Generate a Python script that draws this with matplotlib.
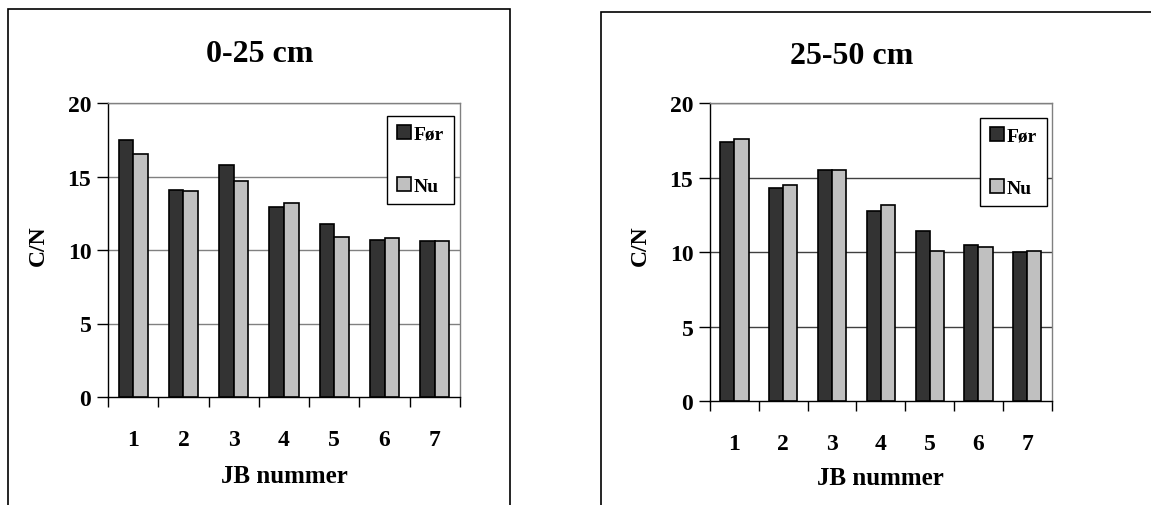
import matplotlib
matplotlib.use("Agg")
import matplotlib.pyplot as plt
from matplotlib.patches import Rectangle, Patch
import numpy as np

categories = ["1", "2", "3", "4", "5", "6", "7"]
series_names = ["Før", "Nu"]
foer_0_25 = [17.5, 14.1, 15.8, 12.9, 11.8, 10.7, 10.6]
nu_0_25 = [16.5, 14.0, 14.7, 13.2, 10.9, 10.8, 10.6]
foer_25_50 = [17.4, 14.3, 15.5, 12.8, 11.4, 10.5, 10.0]
nu_25_50 = [17.6, 14.5, 15.5, 13.2, 10.1, 10.35, 10.1]
titles = ["0-25 cm", "25-50 cm"]
yticks = [0, 5, 10, 15, 20]

plt.rcParams["font.family"] = ["Liberation Serif", "DejaVu Serif"]
plt.rcParams["font.weight"] = "bold"

W, H = 1151, 506
fig = plt.figure(figsize=(W / 100, H / 100), dpi=100)

def px_rect(x0, y0, x1, y1):
    return [x0 / W, 1 - y1 / H, (x1 - x0) / W, (y1 - y0) / H]

# outer frames
fig.patches.append(Rectangle((8 / W, 1 - 530 / H), (510 - 8) / W, (530 - 10) / H,
                             transform=fig.transFigure, fill=False, ec="black", lw=1.2))
fig.patches.append(Rectangle((601 / W, 1 - 530 / H), (1200 - 601) / W, (530 - 13) / H,
                             transform=fig.transFigure, fill=False, ec="black", lw=1.2))

panels = [
    dict(rect=px_rect(108, 104, 460, 398), foer=foer_0_25, nu=nu_0_25, title=titles[0],
         title_xy=(260, 55), xlab_y=477, ylab_x=38, leg=(389, 111, 452, 211), grid="#808080"),
    dict(rect=px_rect(710, 104.3, 1051.7, 402.3), foer=foer_25_50, nu=nu_25_50, title=titles[1],
         title_xy=(852, 57), xlab_y=479, ylab_x=640, leg=(981, 113, 1046, 213), grid="#404040"),
]

x = np.arange(len(categories))
bw = 0.29
for p in panels:
    ax = fig.add_axes(p["rect"])
    ax.bar(x - bw / 2, p["foer"], bw, color="#333333", edgecolor="black", lw=1.2,
           label=series_names[0], zorder=3)
    ax.bar(x + bw / 2, p["nu"], bw, color="#c0c0c0", edgecolor="black", lw=1.2,
           label=series_names[1], zorder=3)
    ax.set_xlim(-0.5, len(categories) - 0.5)
    ax.set_ylim(0, 20)
    ax.set_yticks(yticks)
    ax.set_yticklabels([str(t) for t in yticks], fontsize=17, fontweight="bold")
    ax.set_xticks(x)
    ax.set_xticklabels(categories, fontsize=17, fontweight="bold")
    ax.tick_params(axis="x", which="major", length=0, pad=23)
    ax.set_xticks(np.arange(len(categories) + 1) - 0.5, minor=True)
    ax.tick_params(axis="x", which="minor", length=7, width=1, direction="out")
    ax.tick_params(axis="y", length=8, width=1, direction="out", pad=4)
    for yv in yticks[1:]:
        ax.axhline(yv, color=p["grid"], lw=1, zorder=1)
    ax.spines["top"].set_color("#808080")
    ax.spines["right"].set_color("#808080")
    ax.spines["left"].set_color("black")
    ax.spines["bottom"].set_color("black")
    for s in ax.spines.values():
        s.set_linewidth(1)
    tx, ty = p["title_xy"]
    fig.text(tx / W, 1 - ty / H, p["title"], fontsize=23, fontweight="bold",
             ha="center", va="center")
    cx = (p["rect"][0] + p["rect"][2] / 2)
    fig.text(cx, 1 - p["xlab_y"] / H, "JB nummer", fontsize=18, fontweight="bold",
             ha="center", va="center")
    fig.text(p["ylab_x"] / W, 1 - 246 / H, "C/N", fontsize=17, fontweight="bold",
             ha="center", va="center", rotation=90)
    lx0, ly0, lx1, ly1 = p["leg"]
    handles = [Patch(facecolor="#333333", edgecolor="black", lw=1.2),
               Patch(facecolor="#c0c0c0", edgecolor="black", lw=1.2)]
    leg = fig.legend(handles, series_names, loc="center",
                     bbox_to_anchor=((lx0 + lx1) / 2 / W, 1 - (ly0 + ly1) / 2 / H),
                     prop=dict(family="Liberation Serif", weight="bold", size=14),
                     frameon=True, fancybox=False, edgecolor="black", framealpha=1,
                     handlelength=0.7, handleheight=0.7, handletextpad=0.15,
                     labelspacing=1.75, borderpad=0.5, borderaxespad=0)
    leg.get_frame().set_linewidth(1)

fig.savefig("out.png", dpi=100)
